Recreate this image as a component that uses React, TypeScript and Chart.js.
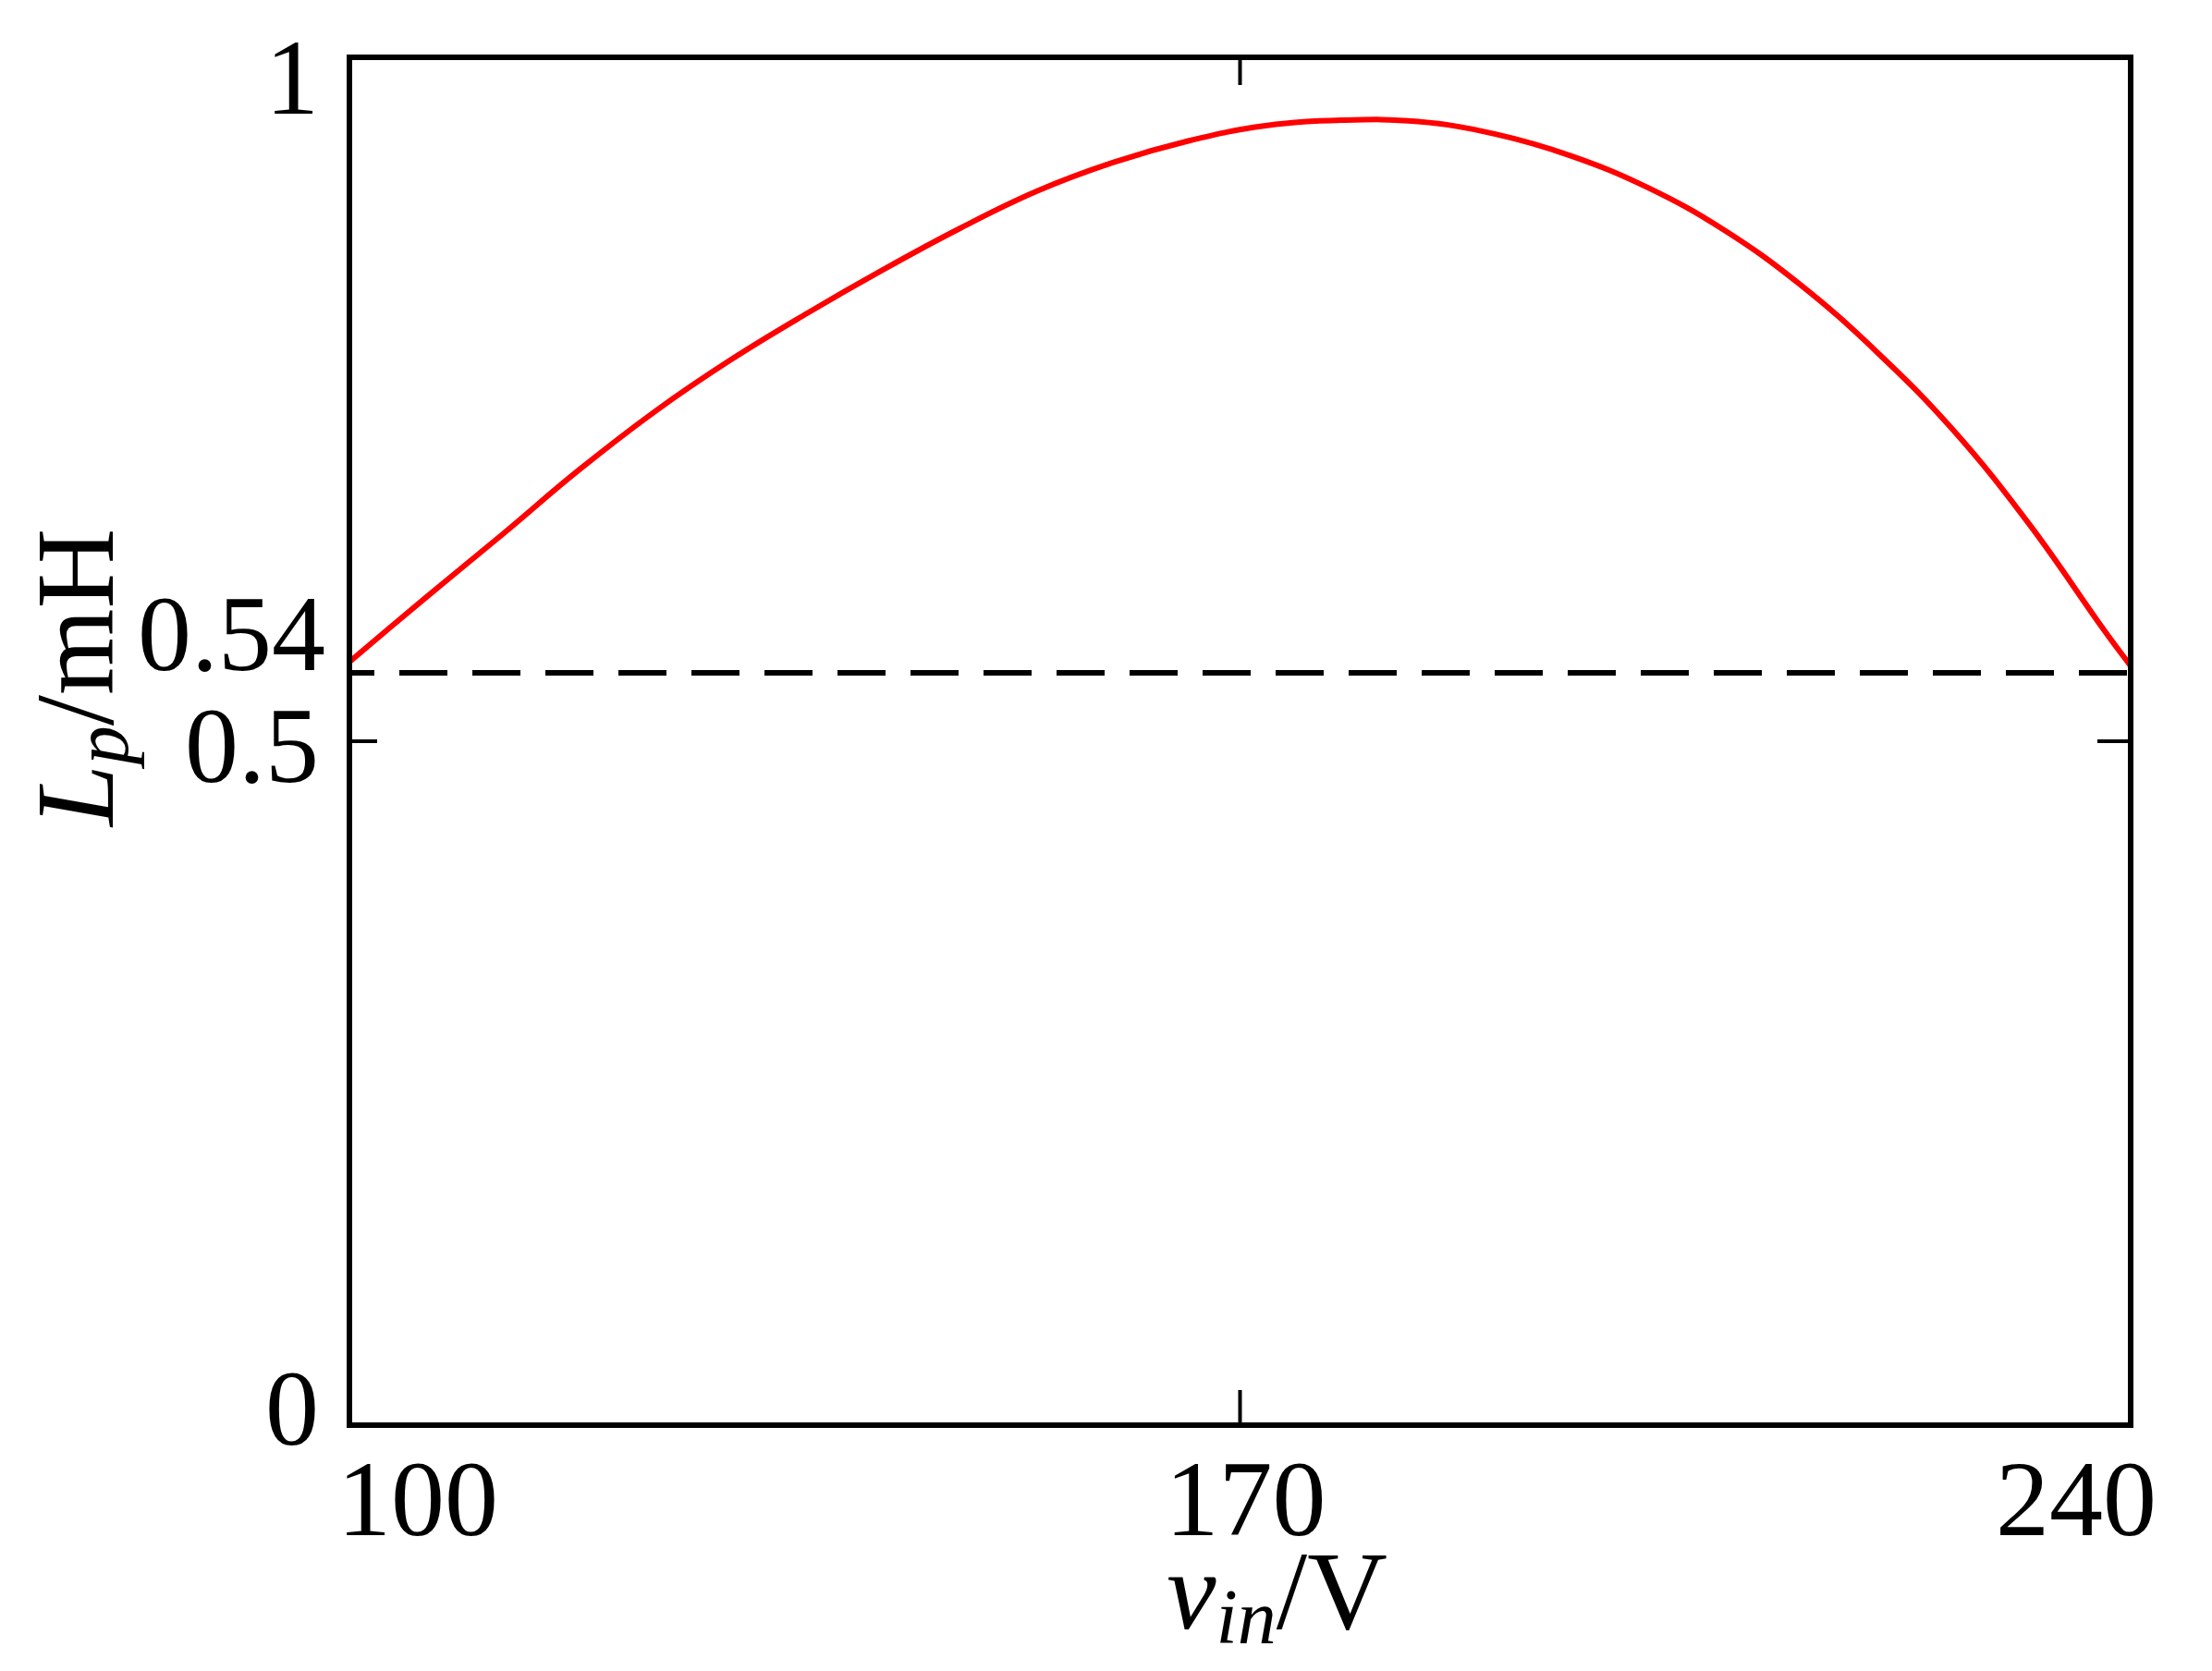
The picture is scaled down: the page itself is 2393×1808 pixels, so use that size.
import { useEffect, useRef } from "react";
import { Chart, registerables } from "chart.js";
import type { Plugin } from "chart.js";

Chart.register(...registerables);

// axis ranges
const VIN_MIN = 100;
const VIN_MAX = 240;
const LP_AXIS_MIN = 0;
const LP_AXIS_MAX = 1;

// ticks and their labels
const X_TICKS = [100, 170, 240];
const X_TICK_LABELS = ["100", "170", "240"];
const Y_TICKS = [0, 0.5, 1];
const Y_TICK_LABELS = ["0", "0.5", "1"];

// Lp (mH) against input voltage
const VIN = [
  100, 106, 112, 118, 124, 130, 136, 142, 148, 154, 160, 166, 172, 178, 184,
  190, 196, 202, 208, 214, 220, 226, 232, 238, 240,
];
const LP = [
  0.558, 0.605, 0.651, 0.698, 0.741, 0.779, 0.813, 0.845, 0.875, 0.902, 0.923,
  0.939, 0.95, 0.954, 0.953, 0.944, 0.928, 0.905, 0.874, 0.834, 0.785, 0.728,
  0.659, 0.58, 0.555,
];

// minimum inductance, dashed line
const LP_MIN = 0.55;
const LP_MIN_LABEL = "0.54";

type Seg = { text: string; italic?: boolean; sub?: boolean };
const X_TITLE: Seg[] = [
  { text: "v", italic: true },
  { text: "in", italic: true, sub: true },
  { text: "/V" },
];
const Y_TITLE: Seg[] = [
  { text: "L", italic: true },
  { text: "p", italic: true, sub: true },
  { text: "/mH" },
];

const FONT = '"Liberation Serif", "Times New Roman", serif';
const TICK_SIZE = 116;
const TITLE_SIZE = 120;
const SUB_SIZE = 84;

// label placement tweaks (px)
const X_LABEL_STYLE: { align: CanvasTextAlign; dx: number }[] = [
  { align: "left", dx: -13 },
  { align: "center", dx: 6 },
  { align: "right", dx: 28 },
];
const Y_LABEL_DY = [21, 44, 61];

function drawRich(
  ctx: CanvasRenderingContext2D,
  segs: Seg[],
  cx: number,
  baseline: number,
) {
  const fontOf = (s: Seg) =>
    `${s.italic ? "italic " : ""}${s.sub ? SUB_SIZE : TITLE_SIZE}px ${FONT}`;
  let total = 0;
  for (const s of segs) {
    ctx.font = fontOf(s);
    total += ctx.measureText(s.text).width;
  }
  let x = cx - total / 2;
  ctx.textAlign = "left";
  ctx.textBaseline = "alphabetic";
  for (const s of segs) {
    ctx.font = fontOf(s);
    ctx.fillText(s.text, x, baseline + (s.sub ? 16 : 0));
    x += ctx.measureText(s.text).width;
  }
}

const framePlugin: Plugin<"line"> = {
  id: "frame",
  afterDatasetsDraw(chart) {
    const { ctx, chartArea: a } = chart;
    const xs = chart.scales.x;
    const ys = chart.scales.y;
    ctx.save();
    ctx.strokeStyle = "#000";
    ctx.fillStyle = "#000";

    // box
    ctx.lineWidth = 6;
    ctx.strokeRect(a.left, a.top, a.right - a.left, a.bottom - a.top);

    // inward tick marks
    ctx.lineWidth = 4;
    ctx.beginPath();
    X_TICKS.forEach((v) => {
      const px = xs.getPixelForValue(v);
      if (px <= a.left + 1 || px >= a.right - 1) return;
      ctx.moveTo(px, a.bottom);
      ctx.lineTo(px, a.bottom - 38);
      ctx.moveTo(px, a.top);
      ctx.lineTo(px, a.top + 30);
    });
    Y_TICKS.forEach((v) => {
      const py = ys.getPixelForValue(v);
      if (py <= a.top + 1 || py >= a.bottom - 1) return;
      ctx.moveTo(a.left, py);
      ctx.lineTo(a.left + 30, py);
      ctx.moveTo(a.right, py);
      ctx.lineTo(a.right - 36, py);
    });
    ctx.stroke();

    // tick labels
    ctx.font = `${TICK_SIZE}px ${FONT}`;
    ctx.textBaseline = "alphabetic";
    X_TICKS.forEach((v, i) => {
      const st = X_LABEL_STYLE[i];
      ctx.textAlign = st.align;
      ctx.fillText(X_TICK_LABELS[i], xs.getPixelForValue(v) + st.dx, a.bottom + 119);
    });
    ctx.textAlign = "right";
    Y_TICKS.forEach((v, i) => {
      ctx.fillText(Y_TICK_LABELS[i], a.left - 33, ys.getPixelForValue(v) + Y_LABEL_DY[i]);
    });
    ctx.fillText(LP_MIN_LABEL, a.left - 26, ys.getPixelForValue(LP_MIN) - 3);

    // axis titles
    drawRich(ctx, X_TITLE, (a.left + a.right) / 2 + 40, a.bottom + 220);
    ctx.translate(a.left - 256, (a.top + a.bottom) / 2 - 69);
    ctx.rotate(-Math.PI / 2);
    drawRich(ctx, Y_TITLE, 0, 0);

    ctx.restore();
  },
};

function InductanceChart() {
  const canvasRef = useRef<HTMLCanvasElement>(null);

  useEffect(() => {
    if (!canvasRef.current) return;
    const chart = new Chart(canvasRef.current, {
      type: "line",
      data: {
        datasets: [
          {
            label: "Lp",
            data: VIN.map((v, i) => ({ x: v, y: LP[i] })),
            borderColor: "#ff0000",
            borderWidth: 6,
            pointRadius: 0,
            tension: 0.4,
            fill: false,
          },
          {
            label: "Lp min",
            data: [
              { x: VIN_MIN, y: LP_MIN },
              { x: VIN_MAX, y: LP_MIN },
            ],
            borderColor: "#000000",
            borderWidth: 6,
            borderDash: [52, 27],
            borderDashOffset: 25,
            pointRadius: 0,
            fill: false,
          },
        ],
      },
      options: {
        animation: false,
        responsive: true,
        maintainAspectRatio: false,
        events: [],
        layout: { padding: { left: 378, right: 88, top: 62, bottom: 266 } },
        plugins: {
          legend: { display: false },
          tooltip: { enabled: false },
        },
        scales: {
          x: { type: "linear", min: VIN_MIN, max: VIN_MAX, display: false },
          y: { type: "linear", min: LP_AXIS_MIN, max: LP_AXIS_MAX, display: false },
        },
      },
      plugins: [framePlugin],
    });
    return () => chart.destroy();
  }, []);

  return (
    <div
      style={{
        position: "fixed",
        left: 0,
        top: 0,
        width: "100vw",
        height: "100vh",
        background: "#fff",
      }}
    >
      <canvas ref={canvasRef} />
    </div>
  );
}

export default function App() {
  return <InductanceChart />;
}
